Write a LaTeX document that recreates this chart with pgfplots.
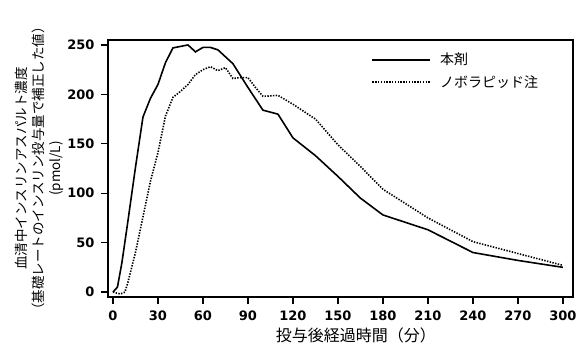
\documentclass[border=0pt]{standalone}
\usepackage{fontspec}
\setmainfont{Noto Sans CJK JP}
\newfontfamily\tickfont{DejaVu Sans}
\usepackage{pgfplots}
\pgfplotsset{compat=1.18}
\begin{document}
\begin{tikzpicture}
\path[use as bounding box] (-108pt,-62pt) rectangle (478pt,297pt);
\begin{axis}[
  scale only axis, width=465pt, height=257pt,
  xmin=-3.3, xmax=306.7, ymin=-5, ymax=255,
  xtick={0,30,...,300}, ytick={0,50,...,250},
  xtick pos=bottom, ytick pos=left,
  tick align=outside, major tick length=7pt,
  axis line style={line width=1.4pt},
  tick style={line width=1.2pt, black},
  ticklabel style={font=\tickfont\bfseries\fontsize{13}{15}\selectfont},
  xticklabel style={yshift=-3pt},
  yticklabel style={xshift=-3pt},
  /pgf/number format/assume math mode=true,
  xlabel={投与後経過時間（分）},
  xlabel style={font=\fontsize{16}{19}\selectfont, at={(axis description cs:0.533,0)}, anchor=center, yshift=-38pt},
  ylabel={血清中インスリンアスパルト濃度\\（基礎レートのインスリン投与量で補正した値）\\(pmol/L)},
  ylabel style={font=\fontsize{13.5}{17}\selectfont, align=center, at={(axis description cs:-0.147,0.5)}, anchor=center},
  legend style={draw=none, fill=none, at={(axis description cs:0.56,0.965)}, anchor=north west, font=\fontsize{14}{17}\selectfont, row sep=5pt, /tikz/every odd column/.append style={column sep=7pt}},
  legend cell align=left,
  legend image code/.code={\draw[#1] (0pt,0pt) -- (58pt,0pt);},
]
\addplot[black, line width=1.6pt] coordinates {
(0,0) (3,5) (6,30) (10,72) (15,126) (20,177) (25,196) (30,210) (35,232) (40,247)
(50,250) (55,243) (60,247.5) (65,247.5) (70,245) (75,238) (80,231) (90,207)
(100,184) (110,180) (120,156) (135,138) (150,117) (165,95) (180,78) (210,63)
(240,40) (270,32) (300,25)};
\addlegendentry{本剤}
\addplot[black, line width=1.6pt, dash pattern=on 1.4pt off 1.4pt] coordinates {
(0,0) (5,-2) (8,0) (10,10) (15,40) (20,76) (25,112) (30,141) (35,178) (40,197)
(45,203) (50,210) (55,220) (60,225) (65,228) (70,224) (75,227) (80,216) (85,217)
(90,217) (95,207) (100,198) (110,199) (120,190) (135,175) (150,149) (165,127)
(180,104) (210,75) (240,51) (270,39) (300,27)};
\addlegendentry{ノボラピッド注}
\end{axis}
\end{tikzpicture}
\end{document}
